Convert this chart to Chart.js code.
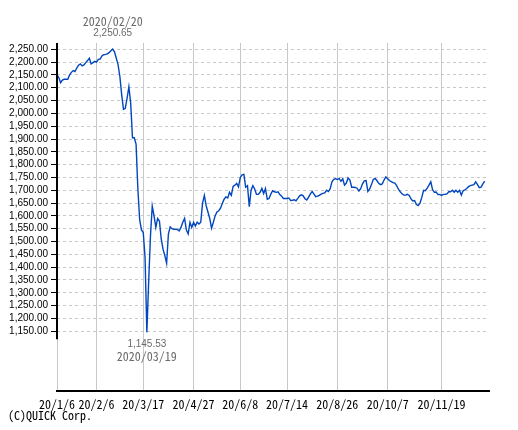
<!DOCTYPE html>
<html><head><meta charset="utf-8">
<script src="https://cdn.jsdelivr.net/npm/chart.js@4/dist/chart.umd.min.js"></script>
<style>html,body{margin:0;padding:0;background:#fff}canvas{display:block}</style>
</head><body>
<canvas id="c" width="518" height="430"></canvas>
<script>
// Daily closes (trading days from 2020/1/6)
const values = [
2150,2140,2120,2130,2133,2133,2133,2150,2160,2167,
2163,2177,2188,2193,2185,2189,2198,2206,2215,2193,
2198,2203,2200,2211,2212,2224,2229,2230,2232,2237,
2244,2250.65,2240,2215,2189,2143,2072,2016,2020,2059,
2104,2040,1905,1905,1880,1705,1585,1545,1535,1438,
1145.53,1340,1520,1638,1600,1555,1590,1580,1510,1470,
1445,1415,1530,1557,1550,1548,1548,1547,1541,1555,
1575,1590,1545,1530,1575,1555,1575,1560,1575,1568,
1575,1650,1680,1640,1615,1590,1552,1575,1600,1615,
1620,1630,1648,1665,1674,1670,1692,1680,1715,1720,
1727,1713,1750,1760,1762,1712,1718,1636,1700,1718,
1705,1684,1684,1692,1707,1687,1707,1665,1668,1685,
1698,1694,1692,1694,1683,1677,1668,1668,1668,1670,
1660,1661,1663,1659,1668,1678,1682,1678,1667,1662,
1673,1686,1695,1685,1675,1677,1680,1685,1688,1690,
1700,1695,1705,1733,1743,1745,1742,1746,1735,1745,
1720,1728,1748,1740,1712,1712,1711,1708,1697,1706,
1725,1737,1738,1695,1705,1722,1742,1746,1738,1727,
1722,1725,1740,1752,1745,1738,1734,1730,1728,1718,
1704,1694,1686,1681,1681,1684,1680,1666,1658,1660,
1644,1640,1650,1672,1700,1698,1708,1720,1733,1702,
1692,1693,1683,1684,1680,1684,1684,1686,1694,1694,
1700,1692,1700,1692,1700,1681,1698,1702,1707,1714,
1718,1720,1722,1733,1722,1710,1712,1725,1736
];
const xTickIndex = [0,22,48,76,102,128,156,184,214];
const xTickLabels = ['20/1/6','20/2/6','20/3/17','20/4/27','20/6/8','20/7/14','20/8/26','20/10/7','20/11/19'];
const yTickValues = [1150,1200,1250,1300,1350,1400,1450,1500,1550,1600,1650,1700,1750,1800,1850,1900,1950,2000,2050,2100,2150,2200,2250];
const highLabel = ['2020/02/20','2,250.65'];
const lowLabel = ['1,145.53','2020/03/19'];
const copyright = '(C)QUICK Corp.';

function hasFont(f){
  const c=document.createElement('canvas').getContext('2d');
  const s='2,250.00 20/11/19 QUICK Corp.';
  for (const base of ['monospace','serif','sans-serif']){
    c.font='20px '+base; const w1=c.measureText(s).width;
    c.font="20px '"+f+"', "+base; const w2=c.measureText(s).width;
    if (w1!==w2) return true;
  }
  return false;
}
const monoFont = hasFont('Noto Sans Mono CJK JP') ? {family:"'Noto Sans Mono CJK JP'", size:12} : {family:"'Liberation Mono'", size:10};
const numFont = hasFont('Liberation Sans Narrow') ? {family:"'Liberation Sans Narrow'", size:12} : {family:"'Liberation Sans'", size:10};

const annotPlugin = {
  id:'annot',
  afterDraw(chart){
    const {ctx, scales:{x,y}, chartArea} = chart;
    ctx.save();
    // y axis line
    ctx.strokeStyle='#000'; ctx.lineWidth=2;
    const bt = y.getPixelForValue(yTickValues[0]);
    ctx.beginPath(); ctx.moveTo(chartArea.left, chartArea.top); ctx.lineTo(chartArea.left, bt+8); ctx.stroke();
    // annotations
    const hi = values.indexOf(Math.max(...values));
    const lo = values.indexOf(Math.min(...values));
    ctx.fillStyle='#6a6a6a'; ctx.textAlign='center'; ctx.textBaseline='middle';
    let px = x.getPixelForValue(hi), py = y.getPixelForValue(values[hi]);
    ctx.font = monoFont.size+'px '+monoFont.family; ctx.fillText(highLabel[0], px, py-27.5);
    ctx.font = numFont.size+'px '+numFont.family; ctx.fillText(highLabel[1], px, py-16);
    px = x.getPixelForValue(lo); py = y.getPixelForValue(values[lo]);
    ctx.font = numFont.size+'px '+numFont.family; ctx.fillText(lowLabel[0], px, py+12);
    ctx.font = monoFont.size+'px '+monoFont.family; ctx.fillText(lowLabel[1], px, py+24.3);
    // copyright
    ctx.fillStyle='#000'; ctx.textAlign='left';
    ctx.fillText(copyright, 8, 415);
    ctx.restore();
  }
};

new Chart(document.getElementById('c'), {
  type:'line',
  data:{datasets:[{data: values.map((v,i)=>({x:i,y:v})), borderColor:'rgb(0,70,190)', borderWidth:1.4, pointRadius:0, tension:0, fill:false}]},
  options:{
    responsive:false, animation:false, devicePixelRatio:1,
    layout:{padding:{top:43,right:29,left:0,bottom:0}},
    plugins:{legend:{display:false}, tooltip:{enabled:false}, title:{display:false}},
    scales:{
      x:{type:'linear', min:0, max:240.4,
        afterBuildTicks:s=>{s.ticks = xTickIndex.map(v=>({value:v}));},
        afterFit:s=>{s.height=39;},
        ticks:{autoSkip:false, maxRotation:0, padding:6, color:'#000', font:{family:monoFont.family, size:monoFont.size}, callback:(v,i)=>xTickLabels[i]},
        grid:{color:'#c8c8c8', lineWidth:1, drawTicks:false},
        border:{display:true, color:'#000', width:2}},
      y:{type:'linear', min:916.7, max:2274.6,
        afterBuildTicks:s=>{s.ticks = yTickValues.map(v=>({value:v}));},
        afterFit:s=>{s.width=57;},
        ticks:{padding:3, color:'#000', font:{family:numFont.family, size:numFont.size},
          callback:v=>Number(v).toLocaleString('en-US',{minimumFractionDigits:2,maximumFractionDigits:2})},
        grid:{color:'#c8c8c8', lineWidth:1, drawTicks:true, tickLength:6, tickColor:'#000', tickBorderDash:[]},
        border:{display:false, dash:[3,3]}}
    }
  },
  plugins:[annotPlugin]
});
</script>
</body></html>
